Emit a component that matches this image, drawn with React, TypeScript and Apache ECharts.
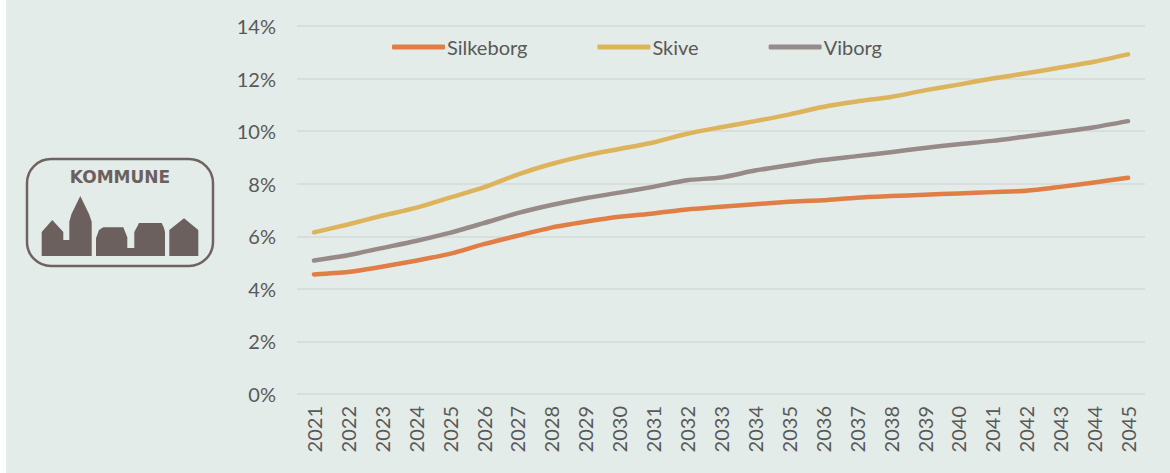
import React, { useEffect, useRef } from "react";
import * as echarts from "echarts";

const years = [
  "2021", "2022", "2023", "2024", "2025", "2026", "2027", "2028", "2029", "2030",
  "2031", "2032", "2033", "2034", "2035", "2036", "2037", "2038", "2039", "2040",
  "2041", "2042", "2043", "2044", "2045",
];

const silkeborg = [
  4.55, 4.64, 4.84, 5.07, 5.33, 5.7, 6.02, 6.33, 6.55, 6.74,
  6.87, 7.02, 7.12, 7.22, 7.31, 7.37, 7.47, 7.53, 7.58, 7.63,
  7.68, 7.73, 7.88, 8.05, 8.23,
];

const skive = [
  6.15, 6.45, 6.78, 7.08, 7.47, 7.86, 8.35, 8.75, 9.07, 9.32,
  9.57, 9.9, 10.15, 10.38, 10.63, 10.92, 11.13, 11.3, 11.55, 11.77,
  12.0, 12.2, 12.42, 12.64, 12.92,
];

const viborg = [
  5.08, 5.28, 5.55, 5.82, 6.13, 6.5, 6.88, 7.19, 7.45, 7.66,
  7.88, 8.13, 8.24, 8.5, 8.7, 8.9, 9.05, 9.2, 9.36, 9.5,
  9.63, 9.8, 9.97, 10.15, 10.38,
];

const seriesNames = ["Silkeborg", "Skive", "Viborg"];
const seriesColors = ["#E07E45", "#DDB35C", "#978A89"];
const logoText = "KOMMUNE";

export default function App() {
  const ref = useRef<HTMLDivElement>(null);

  useEffect(() => {
    document.body.style.margin = "0";
    const chart = echarts.init(ref.current!, null, { renderer: "svg" });
    const font = "Lato";
    const labelColor = "#595959";
    const logoColor = "#6B605E";
    const seriesData = [silkeborg, skive, viborg];

    chart.setOption({
      animation: false,
      backgroundColor: "#E3ECE8",
      textStyle: { fontFamily: font },
      grid: { left: 297, right: 25, top: 26, bottom: 79, containLabel: false },
      legend: {
        top: 32,
        left: 387,
        itemWidth: 53,
        itemHeight: 5,
        itemGap: 70,
        icon: "roundRect",
        textStyle: { fontFamily: font, fontSize: 20, color: labelColor, padding: [0, 0, 0, -3] },
        data: seriesNames,
      },
      xAxis: {
        type: "category",
        data: years,
        boundaryGap: true,
        axisLine: { show: false },
        axisTick: { show: false },
        axisLabel: {
          rotate: 90,
          margin: 12,
          fontFamily: font,
          fontSize: 20,
          color: labelColor,
          interval: 0,
        },
      },
      yAxis: {
        type: "value",
        min: 0,
        max: 14,
        interval: 2,
        axisLine: { show: false },
        axisTick: { show: false },
        axisLabel: {
          formatter: "{value}%",
          margin: 21,
          fontFamily: font,
          fontSize: 20,
          color: labelColor,
        },
        splitLine: { lineStyle: { color: "#D6D9D7", width: 1.5 } },
      },
      series: seriesNames.map((name, i) => ({
        name,
        type: "line",
        data: seriesData[i],
        smooth: 0.25,
        symbol: "none",
        itemStyle: { color: seriesColors[i] },
        lineStyle: { color: seriesColors[i], width: 4.5, cap: "round", join: "round" },
        z: 3 + i,
      })),
      graphic: [
        {
          type: "rect",
          shape: { x: 0, y: 0, width: 6, height: 473 },
          style: { fill: "#FFFFFF" },
          z: 100,
        },
        {
          type: "group",
          z: 100,
          children: [
            {
              type: "rect",
              shape: { x: 27, y: 159, width: 186, height: 107, r: 24 },
              style: { fill: "none", stroke: "#6F6362", lineWidth: 2.5 },
            },
            {
              type: "text",
              x: 120,
              y: 177,
              style: {
                text: logoText,
                fill: logoColor,
                font: "bold 17px 'DejaVu Sans'",
                textAlign: "center",
                textVerticalAlign: "middle",
              },
            },
            {
              type: "polygon",
              shape: { points: [[41.7, 256], [41.7, 232], [52.3, 220], [63.3, 232], [63.3, 256]] },
              style: { fill: logoColor },
            },
            {
              type: "rect",
              shape: { x: 63, y: 240, width: 7, height: 16 },
              style: { fill: logoColor },
            },
            {
              type: "polygon",
              shape: {
                points: [[69.3, 256], [69.3, 221.7], [71.5, 214], [80.3, 196], [89, 214], [91.7, 221.7], [91.7, 256]],
              },
              style: { fill: logoColor },
            },
            {
              type: "polygon",
              shape: {
                points: [[96, 256], [96, 238.3], [99, 230], [103.3, 227.3], [123.3, 227.3], [127.3, 237.3], [127.3, 256]],
              },
              style: { fill: logoColor },
            },
            {
              type: "rect",
              shape: { x: 127, y: 248, width: 8, height: 8 },
              style: { fill: logoColor },
            },
            {
              type: "polygon",
              shape: {
                points: [[134.3, 256], [134.3, 232], [137, 227], [139, 223], [161.7, 223], [164, 228], [165, 232], [165, 256]],
              },
              style: { fill: logoColor },
            },
            {
              type: "polygon",
              shape: { points: [[169.3, 256], [169.3, 230], [184, 218.3], [198.3, 230], [198.3, 256]] },
              style: { fill: logoColor },
            },
          ],
        },
      ],
    });

    return () => chart.dispose();
  }, []);

  return (
    <div
      ref={ref}
      style={{ position: "absolute", left: 0, top: 0, width: 1170, height: 473 }}
    />
  );
}
